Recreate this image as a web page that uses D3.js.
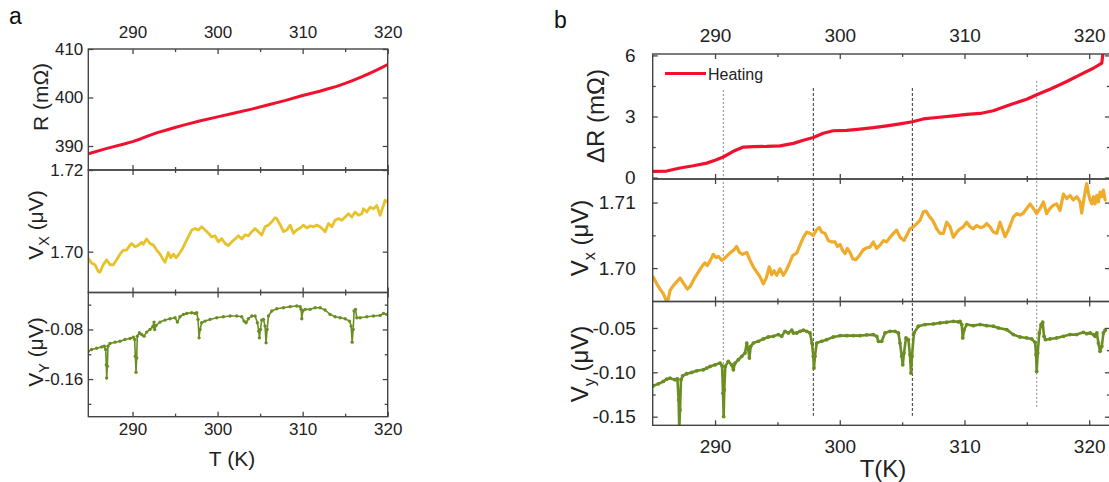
<!DOCTYPE html>
<html><head><meta charset="utf-8">
<script src="https://cdn.jsdelivr.net/npm/d3@7"></script>
<style>body{margin:0;background:#fff}svg{display:block}</style>
</head><body>
<svg id="c" width="1109" height="482"></svg>
<script>
// ---------- DATA ----------
// Panel a: R (mOhm) vs T (K)
const aT_R = [284.8,287,289,290,291,292,293,294,295,296,298,300,302,304,306,308,310,312,313,314,315,316,317,318,319,320];
const aR   = [388.4,389.5,390.4,390.9,391.5,392.2,392.8,393.3,393.8,394.3,395.2,396.0,396.8,397.6,398.5,399.4,400.4,401.3,401.8,402.3,402.9,403.6,404.3,405.1,405.9,406.8];
// Panel a: V_X (uV)
const aT_Vx = [284.80,285.19,285.58,285.98,286.17,286.56,286.96,287.35,287.74,288.13,288.53,288.92,289.31,289.70,289.90,290.29,290.68,291.07,291.27,291.66,292.05,292.45,292.84,293.23,293.62,293.82,294.21,294.49,294.80,295.11,295.39,295.78,296.17,296.56,296.96,297.35,297.74,298.13,298.53,298.92,299.31,299.70,300.09,300.49,300.88,301.27,301.66,302.05,302.45,302.84,303.23,303.62,304.02,304.41,304.80,305.19,305.58,305.98,306.37,306.76,306.96,307.35,307.74,308.13,308.53,308.92,309.31,309.70,310.09,310.49,310.88,311.27,311.66,312.05,312.45,312.64,313.04,313.43,313.82,314.21,314.60,315.00,315.39,315.78,316.17,316.56,316.96,317.15,317.55,317.94,318.33,318.72,319.11,319.43,319.70,319.90];
const aVx = [1.6984,1.6972,1.6968,1.6951,1.6950,1.6968,1.6980,1.6968,1.6968,1.6980,1.6994,1.7004,1.7004,1.7016,1.7020,1.7012,1.7016,1.7023,1.7018,1.7031,1.7020,1.7016,1.7004,1.6994,1.6980,1.6974,1.6998,1.6985,1.6994,1.6985,1.6992,1.7004,1.7020,1.7036,1.7053,1.7057,1.7053,1.7061,1.7053,1.7045,1.7036,1.7039,1.7024,1.7032,1.7020,1.7015,1.7024,1.7031,1.7039,1.7031,1.7041,1.7039,1.7049,1.7057,1.7049,1.7041,1.7061,1.7065,1.7073,1.7083,1.7081,1.7066,1.7049,1.7053,1.7065,1.7045,1.7053,1.7058,1.7065,1.7058,1.7063,1.7061,1.7065,1.7061,1.7053,1.7049,1.7069,1.7061,1.7077,1.7081,1.7077,1.7085,1.7093,1.7085,1.7097,1.7089,1.7093,1.7105,1.7097,1.7109,1.7105,1.7113,1.7089,1.7109,1.7126,1.7122];
// Panel a: V_Y (uV)
const aT_Vy = [284.80,285.19,285.78,286.37,286.68,286.84,286.92,286.96,287.04,287.11,287.35,287.94,288.53,289.11,289.70,290.09,290.25,290.33,290.41,290.49,290.56,290.80,291.07,291.35,291.66,292.05,292.37,292.53,292.60,292.76,293.23,293.82,294.41,295.00,295.27,295.58,295.98,296.37,296.96,297.35,297.55,297.70,297.82,297.94,298.13,298.53,299.11,299.90,300.68,301.47,302.25,302.84,303.11,303.35,303.62,304.02,304.41,304.68,304.84,304.92,305.04,305.19,305.39,305.58,305.70,305.82,305.98,306.37,306.96,307.74,308.53,309.31,309.70,309.82,309.90,310.02,310.29,310.88,311.47,312.05,312.64,313.23,313.82,314.41,315.00,315.51,315.70,315.82,315.94,316.05,316.21,316.37,316.76,317.55,318.33,319.11,319.51,319.90];
const aVy = [-0.1151,-0.1124,-0.1103,-0.1081,-0.1070,-0.1124,-0.1368,-0.1584,-0.1395,-0.1070,-0.1027,-0.1005,-0.0989,-0.0962,-0.0946,-0.0924,-0.0962,-0.1232,-0.1492,-0.1259,-0.0908,-0.0854,-0.0881,-0.0908,-0.0843,-0.0800,-0.0757,-0.0681,-0.0800,-0.0735,-0.0681,-0.0649,-0.0627,-0.0611,-0.0681,-0.0595,-0.0557,-0.0541,-0.0530,-0.0541,-0.0530,-0.0638,-0.0935,-0.0800,-0.0692,-0.0665,-0.0638,-0.0611,-0.0595,-0.0584,-0.0584,-0.0595,-0.0665,-0.0692,-0.0627,-0.0584,-0.0584,-0.0692,-0.0827,-0.0935,-0.0800,-0.0649,-0.0638,-0.0746,-0.1016,-0.0800,-0.0584,-0.0503,-0.0465,-0.0449,-0.0432,-0.0422,-0.0432,-0.0476,-0.0627,-0.0503,-0.0476,-0.0476,-0.0449,-0.0449,-0.0486,-0.0557,-0.0595,-0.0611,-0.0627,-0.0665,-0.0746,-0.1005,-0.0800,-0.0503,-0.0476,-0.0611,-0.0611,-0.0595,-0.0584,-0.0573,-0.0541,-0.0557];

// Panel b: Delta R (mOhm)
const bT_R = [285.05,286.12,287.19,288.26,289.33,290.00,290.66,291.46,292.27,293.07,294.14,295.21,296.28,297.08,297.88,298.68,299.48,300.56,301.62,302.69,303.77,304.83,305.82,306.70,307.78,309.11,310.18,311.25,312.31,313.65,314.99,315.79,316.86,318.20,319.53,320.33,321.01,321.10];
const bR   = [0.30,0.32,0.47,0.58,0.71,0.85,1.01,1.29,1.50,1.52,1.53,1.56,1.68,1.83,1.97,2.18,2.30,2.32,2.38,2.45,2.54,2.64,2.74,2.88,2.95,3.03,3.10,3.15,3.28,3.58,3.85,4.07,4.34,4.72,5.13,5.37,5.62,6.10];
// Panel b: V_x (uV)
const bT_Vx = [285.05,285.32,285.59,285.85,286.12,286.25,286.39,286.65,286.92,287.19,287.46,287.78,288.04,288.39,288.66,288.93,289.19,289.38,289.60,289.86,290.08,290.26,290.53,290.72,290.98,291.25,291.47,291.73,291.95,292.21,292.54,292.80,293.07,293.34,293.60,293.87,294.09,294.35,294.54,294.73,294.94,295.21,295.48,295.69,295.96,296.22,296.55,296.81,297.08,297.35,297.61,297.88,298.15,298.36,298.55,298.82,299.08,299.35,299.62,299.81,300.02,300.23,300.42,300.61,300.82,301.04,301.30,301.57,301.89,302.16,302.43,302.69,302.96,303.23,303.50,303.76,304.03,304.30,304.56,304.83,305.15,305.37,305.63,305.90,306.17,306.44,306.70,306.92,307.18,307.45,307.77,308.04,308.31,308.57,308.84,309.11,309.38,309.64,309.91,310.18,310.45,310.71,310.98,311.25,311.52,311.78,312.05,312.32,312.59,312.85,313.25,313.52,313.92,314.19,314.46,314.72,314.99,315.26,315.52,315.79,316.06,316.33,316.59,316.86,317.13,317.39,317.66,317.93,318.20,318.46,318.73,319.00,319.27,319.40,319.67,319.80,319.94,320.07,320.21,320.34,320.47,320.61,320.74,320.87,321.01,321.14,321.28];
const bVx = [1.6986,1.6976,1.6968,1.6961,1.6949,1.6953,1.6966,1.6973,1.6979,1.6985,1.6977,1.6968,1.6973,1.6986,1.6994,1.7002,1.7008,1.7004,1.7011,1.7021,1.7016,1.7018,1.7012,1.7014,1.7019,1.7024,1.7027,1.7033,1.7024,1.7021,1.7024,1.7012,1.7002,1.6994,1.6987,1.6976,1.6984,1.7002,1.6990,1.6996,1.6989,1.6999,1.6989,1.6996,1.7007,1.7019,1.7023,1.7035,1.7047,1.7055,1.7053,1.7050,1.7059,1.7062,1.7055,1.7053,1.7042,1.7040,1.7040,1.7033,1.7036,1.7027,1.7022,1.7030,1.7024,1.7014,1.7013,1.7019,1.7028,1.7031,1.7032,1.7040,1.7030,1.7035,1.7042,1.7040,1.7047,1.7053,1.7058,1.7047,1.7042,1.7050,1.7060,1.7063,1.7068,1.7073,1.7086,1.7087,1.7079,1.7073,1.7060,1.7053,1.7053,1.7070,1.7063,1.7047,1.7055,1.7060,1.7063,1.7070,1.7063,1.7060,1.7065,1.7062,1.7063,1.7068,1.7063,1.7055,1.7053,1.7070,1.7048,1.7058,1.7078,1.7083,1.7081,1.7084,1.7091,1.7098,1.7091,1.7083,1.7091,1.7101,1.7083,1.7091,1.7096,1.7098,1.7088,1.7113,1.7106,1.7111,1.7104,1.7109,1.7101,1.7084,1.7116,1.7129,1.7114,1.7104,1.7098,1.7109,1.7098,1.7111,1.7101,1.7116,1.7109,1.7119,1.7104];
// Panel b: V_y (uV)
const bT_Vy = [285.05,285.45,285.85,286.12,286.39,286.79,286.98,287.08,287.13,287.19,287.27,287.40,287.73,288.13,288.53,289.06,289.33,289.60,290.00,290.40,290.56,290.64,290.69,290.74,290.82,291.06,291.33,291.47,291.60,291.87,292.14,292.40,292.54,292.67,292.75,292.86,293.07,293.47,293.87,294.27,294.67,295.08,295.34,295.61,295.88,296.15,296.28,296.55,296.81,297.08,297.35,297.61,297.77,297.88,297.93,298.01,298.15,298.55,298.95,299.48,300.02,300.56,301.09,301.62,302.16,302.69,302.96,303.10,303.36,303.63,304.03,304.43,304.70,304.83,304.97,305.05,305.15,305.31,305.50,305.63,305.71,305.79,305.95,306.30,306.84,307.51,308.04,308.57,309.11,309.51,309.64,309.78,309.86,309.97,310.18,310.71,311.25,311.78,312.32,312.72,313.39,313.92,314.46,314.99,315.39,315.66,315.74,315.79,315.87,316.00,316.14,316.27,316.38,316.49,316.86,317.39,317.93,318.46,319.00,319.53,319.80,320.07,320.34,320.47,320.61,320.74,320.87,321.01,321.14,321.28];
const bVy = [-0.1152,-0.1130,-0.1103,-0.1077,-0.1066,-0.1084,-0.1073,-0.1311,-0.1650,-0.1424,-0.1084,-0.1039,-0.1016,-0.1001,-0.0983,-0.0971,-0.0952,-0.0934,-0.0915,-0.0896,-0.0926,-0.1235,-0.1499,-0.1197,-0.0934,-0.0877,-0.0915,-0.0971,-0.0896,-0.0858,-0.0820,-0.0783,-0.0670,-0.0745,-0.0839,-0.0707,-0.0670,-0.0651,-0.0624,-0.0602,-0.0594,-0.0575,-0.0594,-0.0538,-0.0557,-0.0526,-0.0557,-0.0557,-0.0538,-0.0526,-0.0538,-0.0557,-0.0670,-0.0820,-0.0952,-0.0820,-0.0670,-0.0651,-0.0632,-0.0602,-0.0587,-0.0587,-0.0587,-0.0587,-0.0579,-0.0575,-0.0594,-0.0651,-0.0651,-0.0557,-0.0538,-0.0538,-0.0557,-0.0670,-0.0820,-0.0915,-0.0783,-0.0613,-0.0632,-0.0802,-0.1009,-0.0820,-0.0557,-0.0481,-0.0462,-0.0455,-0.0443,-0.0436,-0.0425,-0.0432,-0.0425,-0.0462,-0.0613,-0.0519,-0.0462,-0.0474,-0.0462,-0.0474,-0.0481,-0.0500,-0.0519,-0.0575,-0.0602,-0.0613,-0.0624,-0.0662,-0.0802,-0.0990,-0.0783,-0.0557,-0.0462,-0.0436,-0.0594,-0.0632,-0.0624,-0.0613,-0.0594,-0.0575,-0.0575,-0.0549,-0.0564,-0.0557,-0.0575,-0.0594,-0.0557,-0.0670,-0.0764,-0.0707,-0.0557,-0.0526];

// Vertical guide lines in panel b (T positions, start in dR units, end in V_y units)
const guideT      = [290.66, 297.88, 305.82, 315.79];
const guideTop    = [4.30, 4.40, 4.40, 4.75];
const guideBottom = [-0.148, -0.149, -0.149, -0.140];
const guideDark   = [false, true, true, false];

// Tick values
const xMajor = [290, 300, 310, 320];
const xMinor = [295, 305, 315];
const aRTicks = [390, 400, 410];
const aVxTicks = [1.70, 1.72];
const aVyTicks = [-0.08, -0.16];
const aVyMinor = [-0.04, -0.12, -0.20];
const bRTicks = [0, 3, 6];
const bRMinor = [1.5, 4.5];
const bVxTicks = [1.70, 1.71];
const bVxMinor = [1.705];
const bVyTicks = [-0.05, -0.10, -0.15];
const bVyMinor = [-0.075, -0.125];

// ---------- DRAW ----------
const FONT = "'Liberation Sans', Arial, Helvetica, sans-serif";
const AX = '#454545', TXT = '#222';
const RED = '#f2102f', YEL_A = '#e8c22a', YEL_B = '#efab2c', GRN = '#6b8e23';
const svg = d3.select('#c');
const defs = svg.append('defs');
let clipN = 0;

function axisPart(g, orient, scale, vals, size, pos, fmt, fs, pad) {
  const f = {left: d3.axisLeft, right: d3.axisRight, top: d3.axisTop, bottom: d3.axisBottom}[orient];
  const gen = f(scale).tickValues(vals).tickSizeInner(-size).tickSizeOuter(0).tickPadding(pad)
    .tickFormat(fmt || (() => ''));
  const tr = (orient === 'left' || orient === 'right') ? `translate(${pos},0)` : `translate(0,${pos})`;
  const a = g.append('g').attr('transform', tr).call(gen);
  a.select('.domain').remove();
  a.selectAll('.tick line').attr('stroke', AX).attr('stroke-width', 1.3);
  a.selectAll('.tick text').attr('font-family', FONT).attr('font-size', fs).attr('fill', TXT);
  return a;
}

function panel(x, y, o) {
  const g = svg.append('g');
  const [x0, x1] = x.range();
  const [yb, yt] = y.range();
  const id = 'clip' + (clipN++);
  defs.append('clipPath').attr('id', id).append('rect')
    .attr('x', x0).attr('y', yt).attr('width', x1 - x0).attr('height', yb - yt);
  const plot = g.append('g').attr('clip-path', `url(#${id})`);
  axisPart(g, 'left', y, o.yTicks, 5, x0, o.yFmt, o.fs, o.ypad);
  axisPart(g, 'right', y, o.yTicks, 5, x1, null, o.fs, 3);
  if (o.yMinor) {
    axisPart(g, 'left', y, o.yMinor, 3, x0, null, o.fs, 3);
    axisPart(g, 'right', y, o.yMinor, 3, x1, null, o.fs, 3);
  }
  axisPart(g, 'top', x, xMajor, 5, yt, o.topLabels ? (d => d) : null, o.fs, o.tpad);
  axisPart(g, 'top', x, xMinor, 3, yt, null, o.fs, 3);
  axisPart(g, 'bottom', x, xMajor, 5, yb, o.bottomLabels ? (d => d) : null, o.fs, o.bpad);
  axisPart(g, 'bottom', x, xMinor, 3, yb, null, o.fs, 3);
  g.append('rect').attr('x', x0).attr('y', yt).attr('width', x1 - x0).attr('height', yb - yt)
    .attr('fill', 'none').attr('stroke', AX).attr('stroke-width', 1.4);
  return plot;
}

function series(plot, x, y, T, V, color, width, r) {
  const data = d3.zip(T, V);
  plot.append('path').datum(data)
    .attr('d', d3.line().x(d => x(d[0])).y(d => y(d[1])))
    .attr('fill', 'none').attr('stroke', color).attr('stroke-width', width)
    .attr('stroke-linejoin', 'round').attr('stroke-linecap', 'round');
  if (r) {
    plot.append('g').selectAll('circle').data(data).join('circle')
      .attr('cx', d => x(d[0])).attr('cy', d => y(d[1])).attr('r', r).attr('fill', color);
  }
}

function ylabel(x, y, parts, fs) {
  const t = svg.append('text').attr('transform', `translate(${x},${y}) rotate(-90)`)
    .attr('text-anchor', 'middle').attr('font-family', FONT).attr('font-size', fs).attr('fill', TXT);
  parts.forEach(p => {
    const s = t.append('tspan').text(p.t);
    if (p.sub) s.attr('font-size', fs * 0.68).attr('dy', fs * 0.28);
    if (p.back) s.attr('dy', -fs * 0.28);
  });
}

// ----- Panel a -----
const xa = d3.scaleLinear().domain([284.8, 320]).range([88.3, 387.7]);
const ya1 = d3.scaleLinear().domain([385.05, 410]).range([170, 49]);
const ya2 = d3.scaleLinear().domain([1.69, 1.72]).range([292.5, 170]);
const ya3 = d3.scaleLinear().domain([-0.2207, -0.0204]).range([416.7, 292.5]);
const fmt2 = d => d.toFixed(2);

const pa1 = panel(xa, ya1, {yTicks: aRTicks, yFmt: d => d, fs: 17, ypad: 5, topLabels: true, tpad: 11});
series(pa1, xa, ya1, aT_R, aR, RED, 3);
const pa2 = panel(xa, ya2, {yTicks: aVxTicks, yFmt: fmt2, fs: 17, ypad: 5});
series(pa2, xa, ya2, aT_Vx, aVx, YEL_A, 2.8);
const pa3 = panel(xa, ya3, {yTicks: aVyTicks, yMinor: aVyMinor, yFmt: fmt2, fs: 17, ypad: 5, bottomLabels: true, bpad: 6});
series(pa3, xa, ya3, aT_Vy, aVy, GRN, 1.6, 1.7);

// ----- Panel b -----
const xb = d3.scaleLinear().domain([285, 321.66]).range([652.7, 1109.9]);
const yb1 = d3.scaleLinear().domain([-0.07, 6.07]).range([179, 54]);
const yb2 = d3.scaleLinear().domain([1.6949, 1.7136]).range([301.5, 179]);
const yb3 = d3.scaleLinear().domain([-0.1597, -0.0202]).range([425.3, 301.5]);

const guides = svg.append('g');
guideT.forEach((t, i) => {
  guides.append('line').attr('x1', xb(t)).attr('x2', xb(t))
    .attr('y1', yb1(guideTop[i])).attr('y2', yb3(guideBottom[i]))
    .attr('stroke', guideDark[i] ? '#333' : '#8a8a8a').attr('stroke-width', 1)
    .attr('stroke-dasharray', guideDark[i] ? '3,2' : '2,2');
});

const pb1 = panel(xb, yb1, {yTicks: bRTicks, yMinor: bRMinor, yFmt: d => d, fs: 19, ypad: 17, topLabels: true, tpad: 12});
series(pb1, xb, yb1, bT_R, bR, RED, 3.2);
const pb2 = panel(xb, yb2, {yTicks: bVxTicks, yMinor: bVxMinor, yFmt: fmt2, fs: 19, ypad: 17});
series(pb2, xb, yb2, bT_Vx, bVx, YEL_B, 3.2);
const pb3 = panel(xb, yb3, {yTicks: bVyTicks, yMinor: bVyMinor, yFmt: fmt2, fs: 19, ypad: 17, bottomLabels: true, bpad: 14});
series(pb3, xb, yb3, bT_Vy, bVy, GRN, 2.6, 1.9);

// legend
const lg = svg.append('g');
lg.append('line').attr('x1', 665).attr('x2', 706).attr('y1', 73.5).attr('y2', 73.5)
  .attr('stroke', RED).attr('stroke-width', 3.2);
lg.append('text').attr('x', 708).attr('y', 79.5).attr('font-family', FONT).attr('font-size', 16)
  .attr('fill', TXT).text('Heating');

// axis titles
ylabel(48, 97, [{t: 'R (mΩ)'}], 21);
ylabel(43, 225, [{t: 'V'}, {t: 'X', sub: true}, {t: ' (μV)', back: true}], 21);
ylabel(43, 352, [{t: 'V'}, {t: 'Y', sub: true}, {t: ' (μV)', back: true}], 21);
svg.append('text').attr('x', 232).attr('y', 466).attr('text-anchor', 'middle')
  .attr('font-family', FONT).attr('font-size', 21).attr('fill', TXT).text('T (K)');

ylabel(604, 116, [{t: 'ΔR (mΩ)'}], 24);
ylabel(588, 238, [{t: 'V'}, {t: 'x', sub: true}, {t: ' (μV)', back: true}], 24);
ylabel(588, 364, [{t: 'V'}, {t: 'y', sub: true}, {t: ' (μV)', back: true}], 24);
svg.append('text').attr('x', 883).attr('y', 477).attr('text-anchor', 'middle')
  .attr('font-family', FONT).attr('font-size', 24).attr('fill', TXT).text('T(K)');

// panel letters
svg.append('text').attr('x', 9).attr('y', 24).attr('font-family', FONT).attr('font-size', 23).attr('fill', '#111').text('a');
svg.append('text').attr('x', 554).attr('y', 28).attr('font-family', FONT).attr('font-size', 23).attr('fill', '#111').text('b');
</script>
</body></html>
